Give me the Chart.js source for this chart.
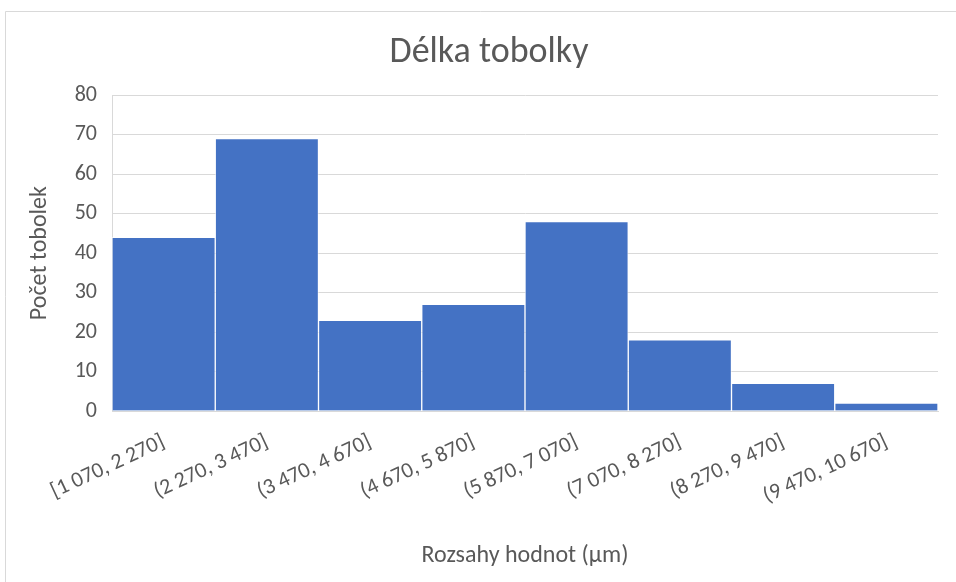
<!DOCTYPE html>
<html><head><meta charset="utf-8">
<script src="https://cdn.jsdelivr.net/npm/chart.js@4"></script>
<style>html,body{margin:0;padding:0;background:#fff;overflow:hidden}#wrap{position:relative;width:956px;height:582px}</style>
</head><body><div id="wrap"><canvas id="c"></canvas></div>
<script>
const categories = ['[1 070, 2 270]','(2 270, 3 470]','(3 470, 4 670]','(4 670, 5 870]','(5 870, 7 070]','(7 070, 8 270]','(8 270, 9 470]','(9 470, 10 670]'];
const counts = [44, 69, 23, 27, 48, 18, 7, 2];
const yMin = 0, yMax = 80, yStep = 10;
const chartTitle = 'Délka tobolky';
const xTitle = 'Rozsahy hodnot (µm)';
const yTitle = 'Počet tobolek';

const FONT = 'Carlito, Calibri, Lato, sans-serif';
const TXT = '#595959';
const GRID = '#d9d9d9';

const frame = {
  id: 'frame',
  beforeDraw(chart) {
    const ctx = chart.ctx;
    ctx.save();
    ctx.fillStyle = '#fff';
    ctx.fillRect(0, 0, chart.width, chart.height);
    ctx.strokeStyle = GRID;
    ctx.lineWidth = 1;
    ctx.beginPath();
    ctx.moveTo(5.5, chart.height);
    ctx.lineTo(5.5, 11.5);
    ctx.lineTo(chart.width, 11.5);
    ctx.stroke();
    ctx.restore();
  }
};

new Chart(document.getElementById('c'), {
  type: 'bar',
  data: {
    labels: categories,
    datasets: [{
      data: counts,
      backgroundColor: '#4472C4',
      borderColor: 'rgba(255,255,255,0.55)',
      borderWidth: 1,
      barPercentage: 1,
      categoryPercentage: 1
    }]
  },
  options: {
    responsive: true,
    maintainAspectRatio: false,
    animation: false,
    layout: { padding: { left: 40, right: 18, top: 0, bottom: 0 } },
    plugins: {
      legend: { display: false },
      tooltip: { enabled: false },
      title: {
        display: true,
        text: chartTitle,
        color: TXT,
        font: { family: FONT, size: 36, weight: 'normal' },
        padding: { top: 31, bottom: 21 }
      }
    },
    scales: {
      y: {
        min: yMin, max: yMax,
        afterFit(s) { s.width = 72; },
        ticks: { stepSize: yStep, color: TXT, font: { family: FONT, size: 22 }, padding: 15 },
        grid: { color: GRID, lineWidth: 1, drawTicks: false },
        border: { display: true, color: GRID },
        title: { display: true, text: yTitle, color: TXT, font: { family: FONT, size: 24 }, padding: { top: -14, bottom: 0 } }
      },
      x: {
        afterFit(s) { s.height = 171; },
        ticks: { color: TXT, font: { family: FONT, size: 22 }, minRotation: 25, maxRotation: 25, padding: 18, autoSkip: false },
        grid: { display: false, drawTicks: false },
        border: { display: true, color: GRID },
        title: { display: true, text: xTitle, color: TXT, font: { family: FONT, size: 24 }, padding: { top: 0, bottom: 12 } }
      }
    }
  },
  plugins: [frame]
});
</script>
</body></html>
